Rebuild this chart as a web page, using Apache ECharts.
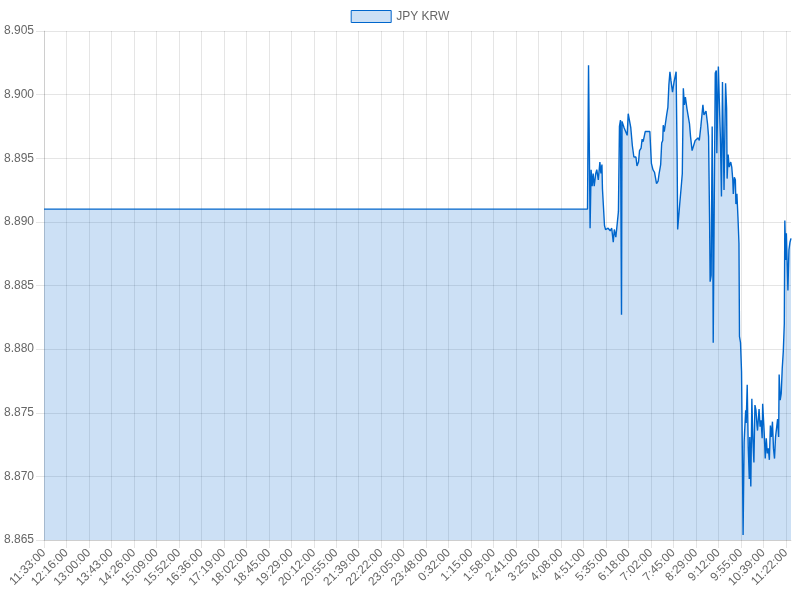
<!DOCTYPE html>
<html>
<head>
<meta charset="utf-8">
<style>html,body{margin:0;padding:0;background:#fff}#c{width:800px;height:600px}</style>
<script src="https://cdn.jsdelivr.net/npm/echarts@6/dist/echarts.min.js"></script>
</head>
<body>
<div id="c"></div>
<script>
// minutes elapsed since 11:33:00
const minutes = [0,1055,1057,1060,1062,1064,1066,1068,1071,1073,1076,1079,1081,1083,1084,1088,1090,1095,1099,1102,1105,1107,1110,1112,1115,1117,1119,1121,1122,1125,1126,1129,1132,1134,1137,1139,1142,1145,1149,1151,1154,1156,1159,1161,1163,1167,1176,1179,1182,1185,1189,1192,1194,1197,1199,1201,1202,1204,1206,1209,1211,1213,1215,1217,1220,1223,1227,1229,1230,1232,1234,1237,1239,1241,1243,1245,1248,1250,1253,1255,1258,1261,1264,1267,1270,1272,1275,1277,1279,1281,1285,1288,1290,1292,1293,1295,1297,1298,1299,1301,1303,1305,1306,1309,1311,1313,1315,1317,1320,1323,1325,1326,1328,1330,1333,1335,1337,1338,1340,1342,1343,1345,1347,1349,1350,1352,1354,1356,1357,1359,1362,1363,1365,1367,1369,1370,1372,1374,1376,1378,1380,1382,1384,1385,1388,1390,1392,1394,1395,1397,1398,1400,1402,1404,1406,1408,1410,1412,1414,1416,1418,1420,1422,1424,1426,1427,1429,1431,1433,1435,1437,1438,1440,1441,1444,1446,1448,1450];
const rates = [8.891,8.891,8.9023,8.8895,8.8941,8.8928,8.8938,8.8928,8.8938,8.8941,8.8933,8.8947,8.8938,8.8945,8.8926,8.8897,8.8894,8.8895,8.8893,8.8895,8.8884,8.8894,8.8888,8.8896,8.8908,8.8975,8.8980,8.8827,8.8979,8.8980,8.8974,8.8975,8.8968,8.8985,8.8985,8.8974,8.8960,8.8951,8.8951,8.8944,8.8947,8.8956,8.8958,8.8965,8.8963,8.8971,8.8971,8.8946,8.8941,8.8939,8.8930,8.8932,8.8938,8.8945,8.8962,8.8964,8.8976,8.8971,8.8972,8.8985,8.8990,8.9008,8.9018,8.9011,8.9002,8.9010,8.9018,8.8949,8.8894,8.8894,8.8914,8.8928,8.8938,8.9005,8.8992,8.8998,8.8989,8.8988,8.8977,8.8967,8.8956,8.8956,8.8964,8.8963,8.8966,8.8964,8.8975,8.8974,8.8992,8.8984,8.8987,8.8977,8.8967,8.8899,8.8853,8.8858,8.8975,8.8920,8.8805,8.8914,8.9017,8.9019,8.8954,8.9022,8.8993,8.8965,8.8920,8.9010,8.8925,8.9009,8.8989,8.8934,8.8953,8.8943,8.8947,8.8943,8.8933,8.8922,8.8935,8.8933,8.8914,8.8922,8.8904,8.8883,8.8810,8.8805,8.8782,8.8700,8.8654,8.8727,8.8752,8.8742,8.8772,8.8723,8.8698,8.8731,8.8692,8.8761,8.8729,8.8711,8.8756,8.8752,8.8740,8.8736,8.8753,8.8739,8.8744,8.8730,8.8757,8.8742,8.8734,8.8714,8.8730,8.8718,8.8722,8.8713,8.8740,8.8731,8.8743,8.8722,8.8714,8.8731,8.8730,8.8745,8.8731,8.8780,8.8760,8.8765,8.8785,8.8798,8.8820,8.8901,8.8870,8.8891,8.8846,8.8878,8.8884,8.8887];
const tickLabels = ['11:33:00','12:16:00','13:00:00','13:43:00','14:26:00','15:09:00','15:52:00','16:36:00','17:19:00','18:02:00','18:45:00','19:29:00','20:12:00','20:55:00','21:39:00','22:22:00','23:05:00','23:48:00','0:32:00','1:15:00','1:58:00','2:41:00','3:25:00','4:08:00','4:51:00','5:35:00','6:18:00','7:02:00','7:45:00','8:29:00','9:12:00','9:55:00','10:39:00','11:22:00'];
const seriesName = 'JPY KRW';

const tickStep = 1440 / 33;
const FONT = "'Helvetica Neue', Helvetica, Arial, 'Liberation Sans', sans-serif";
const GRID = 'rgba(0,0,0,0.1)';
const chart = echarts.init(document.getElementById('c'), null, {renderer: 'canvas'});
chart.setOption({
  animation: false,
  textStyle: {fontFamily: FONT},
  legend: {
    top: 5, left: 'center', icon: 'rect', itemWidth: 40, itemHeight: 12, itemGap: 10,
    textStyle: {color: '#666', fontSize: 12, fontFamily: FONT},
    itemStyle: {color: 'rgba(0,102,204,0.2)', borderColor: '#0066cc', borderWidth: 1},
    data: [seriesName]
  },
  grid: {left: 44, right: 9, top: 31, bottom: 60, containLabel: false},
  xAxis: {
    type: 'value', min: 0, max: 1450, interval: tickStep,
    axisLine: {show: true, lineStyle: {color: GRID}},
    axisTick: {show: true, length: 8, lineStyle: {color: GRID}},
    splitLine: {show: true, showMaxLine: false, lineStyle: {color: GRID}},
    axisLabel: {
      rotate: 45, margin: 11, color: '#666', fontSize: 12, fontFamily: FONT, showMaxLabel: false,
      formatter: function (v) {
        const i = Math.round(v / tickStep);
        if (Math.abs(v - i * tickStep) > 0.5 || i >= tickLabels.length) return '';
        return tickLabels[i];
      }
    }
  },
  yAxis: {
    type: 'value', min: 8.865, max: 8.905, interval: 0.005,
    axisLine: {show: true, lineStyle: {color: GRID}},
    axisTick: {show: true, length: 8, lineStyle: {color: GRID}},
    splitLine: {show: true, lineStyle: {color: GRID}},
    axisLabel: {margin: 10, color: '#666', fontSize: 12, fontFamily: FONT,
      formatter: function (v) { return v.toFixed(3); }}
  },
  series: [{
    name: seriesName, type: 'line', showSymbol: false, symbol: 'none',
    data: minutes.map(function (m, i) { return [m, rates[i]]; }),
    lineStyle: {color: '#0066cc', width: 1.4},
    itemStyle: {color: '#0066cc'},
    areaStyle: {color: 'rgba(0,102,204,0.2)', opacity: 1, origin: 'start'}
  }]
});
</script>
</body>
</html>
